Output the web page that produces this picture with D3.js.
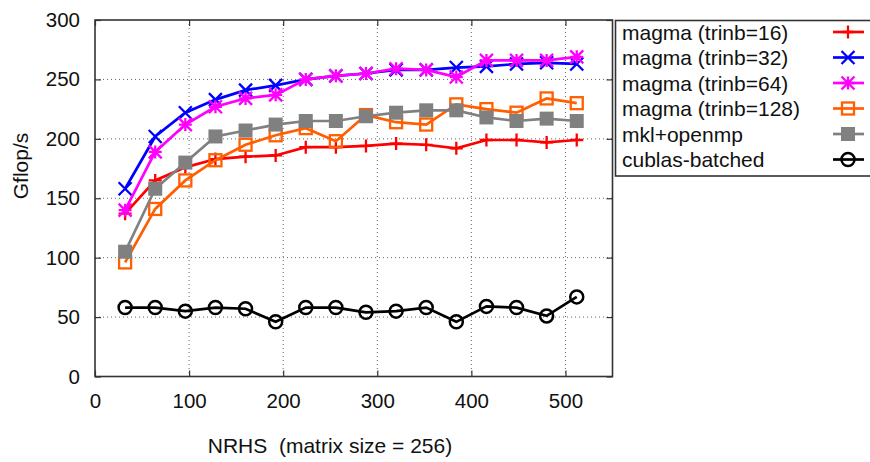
<!DOCTYPE html>
<html>
<head>
<meta charset="utf-8">
<script src="https://cdn.jsdelivr.net/npm/d3@7"></script>
<style>
  body { margin: 0; background: #fff; }
  svg { font-family: "Liberation Sans", Arial, sans-serif; }
</style>
</head>
<body>
<div id="chart"></div>
<script>
// data
const nrhs = [32, 64, 96, 128, 160, 192, 224, 256, 288, 320, 352, 384, 416, 448, 480, 512];
const trinb16 = [137, 165, 176, 183, 185, 186, 193, 193, 194, 196, 195, 192, 199, 199, 197, 199];
const trinb32 = [158, 202, 222, 233, 241, 245, 250, 253, 255, 258, 258, 260, 261, 263, 264, 263];
const trinb64 = [140, 189, 212, 227, 234, 237, 250, 253, 255, 259, 258, 252, 266, 266, 266, 269];
const trinb128 = [96, 141, 165, 182, 195, 203, 209, 198, 220, 214, 212, 229, 225, 222, 234, 230];
const mkl = [105, 158, 180, 202, 207, 212, 215, 215, 219, 222, 224, 224, 218, 215, 217, 215];
const cublas = [58, 58, 55, 58, 57, 46, 58, 58, 54, 55, 58, 46, 59, 58, 51, 67];

const seriesNames = ["magma (trinb=16)", "magma (trinb=32)", "magma (trinb=64)",
                     "magma (trinb=128)", "mkl+openmp", "cublas-batched"];
const seriesValues = [trinb16, trinb32, trinb64, trinb128, mkl, cublas];
const seriesColors = ["#ff0000", "#0000ff", "#ff00ff", "#ff5f00", "#808080", "#000000"];
const seriesMarks = ["plus", "cross", "star", "square", "filledSquare", "circle"];

const xTicks = [0, 100, 200, 300, 400, 500];
const yTicks = [0, 50, 100, 150, 200, 250, 300];

const W = 870, H = 462;
const plot = {left: 95, right: 612.5, top: 20, bottom: 376.5};

const svg = d3.select("#chart").append("svg")
    .attr("width", W)
    .attr("height", H);

const x = d3.scaleLinear().domain([0, 550]).range([plot.left, plot.right]);
const y = d3.scaleLinear().domain([0, 300]).range([plot.bottom, plot.top]);

// grid (dotted)
svg.append("g").selectAll("line")
    .data(xTicks.filter(d => d > 0))
    .join("line")
    .attr("x1", d => x(d)).attr("x2", d => x(d))
    .attr("y1", plot.top).attr("y2", plot.bottom)
    .attr("stroke", "#666").attr("stroke-width", 1).attr("stroke-dasharray", "1,3");
svg.append("g").selectAll("line")
    .data(yTicks.filter(d => d > 0 && d < 300))
    .join("line")
    .attr("x1", plot.left).attr("x2", plot.right)
    .attr("y1", d => y(d)).attr("y2", d => y(d))
    .attr("stroke", "#666").attr("stroke-width", 1).attr("stroke-dasharray", "1,3");

// axes with inward ticks, mirrored
const tl = 6;
svg.append("g")
    .attr("transform", `translate(0,${plot.bottom})`)
    .call(d3.axisBottom(x).tickValues(xTicks).tickSize(-tl).tickPadding(17))
    .call(g => g.select(".domain").remove())
    .call(g => g.selectAll("text").attr("font-size", 20.5).attr("fill", "#111").attr("font-family", "Liberation Sans, Arial"));
svg.append("g")
    .attr("transform", `translate(0,${plot.top})`)
    .call(d3.axisTop(x).tickValues(xTicks).tickSize(-tl).tickFormat(""))
    .call(g => g.select(".domain").remove());
svg.append("g")
    .attr("transform", `translate(${plot.left},0)`)
    .call(d3.axisLeft(y).tickValues(yTicks).tickSize(-tl).tickPadding(15))
    .call(g => g.select(".domain").remove())
    .call(g => g.selectAll("text").attr("font-size", 20.5).attr("fill", "#111").attr("font-family", "Liberation Sans, Arial"));
svg.append("g")
    .attr("transform", `translate(${plot.right},0)`)
    .call(d3.axisRight(y).tickValues(yTicks).tickSize(-tl).tickFormat(""))
    .call(g => g.select(".domain").remove());

svg.selectAll(".tick line").attr("stroke", "#333").attr("stroke-width", 1.2);

// frame
svg.append("rect")
    .attr("x", plot.left).attr("y", plot.top)
    .attr("width", plot.right - plot.left).attr("height", plot.bottom - plot.top)
    .attr("fill", "none").attr("stroke", "#333").attr("stroke-width", 1.6);

// marker shapes
function marker(g, type, color, s) {
    const h = s / 2;
    if (type === "plus") {
        g.append("path").attr("d", `M${-h},0H${h}M0,${-h}V${h}`)
            .attr("stroke", color).attr("stroke-width", 2.3).attr("fill", "none");
    } else if (type === "cross") {
        g.append("path").attr("d", `M${-h},${-h}L${h},${h}M${-h},${h}L${h},${-h}`)
            .attr("stroke", color).attr("stroke-width", 2.3).attr("fill", "none");
    } else if (type === "star") {
        g.append("path").attr("d", `M${-h},0H${h}M0,${-h}V${h}M${-h},${-h}L${h},${h}M${-h},${h}L${h},${-h}`)
            .attr("stroke", color).attr("stroke-width", 2.3).attr("fill", "none");
    } else if (type === "square") {
        g.append("rect").attr("x", -h).attr("y", -h).attr("width", s).attr("height", s)
            .attr("stroke", color).attr("stroke-width", 2.3).attr("fill", "none");
    } else if (type === "filledSquare") {
        g.append("rect").attr("x", -h - 1).attr("y", -h - 1).attr("width", s + 2).attr("height", s + 2)
            .attr("fill", color);
    } else if (type === "circle") {
        g.append("circle").attr("r", h)
            .attr("stroke", color).attr("stroke-width", 2.5).attr("fill", "none");
    }
}

const line = d3.line()
    .x((d, i) => x(nrhs[i]))
    .y(d => y(d));

seriesValues.forEach((vals, k) => {
    const g = svg.append("g");
    g.append("path")
        .datum(vals)
        .attr("fill", "none")
        .attr("stroke", seriesColors[k])
        .attr("stroke-width", 2.7)
        .attr("d", line);
    vals.forEach((v, i) => {
        const m = g.append("g").attr("transform", `translate(${x(nrhs[i])},${y(v)})`);
        marker(m, seriesMarks[k], seriesColors[k], seriesMarks[k] === "square" || seriesMarks[k] === "filledSquare" ? 12 : 13);
    });
});

// legend
const leg = svg.append("g");
leg.append("rect")
    .attr("x", 615.5).attr("y", 20.5)
    .attr("width", 270).attr("height", 155.5)
    .attr("fill", "#fff").attr("stroke", "#333").attr("stroke-width", 1.6);
seriesNames.forEach((name, k) => {
    const cy = 32 + k * 25.5;
    leg.append("text")
        .attr("x", 622).attr("y", cy + 7.5)
        .attr("font-size", 21).attr("fill", "#111")
        .text(name);
    leg.append("line")
        .attr("x1", 833).attr("x2", 864).attr("y1", cy).attr("y2", cy)
        .attr("stroke", seriesColors[k]).attr("stroke-width", 2.7);
    const m = leg.append("g").attr("transform", `translate(848,${cy})`);
    marker(m, seriesMarks[k], seriesColors[k], seriesMarks[k] === "square" || seriesMarks[k] === "filledSquare" ? 12 : 13);
});

// axis titles
svg.append("text")
    .attr("transform", "rotate(-90)")
    .attr("x", -166).attr("y", 28)
    .attr("text-anchor", "middle")
    .attr("font-size", 21).attr("fill", "#111")
    .text("Gflop/s");

svg.append("text")
    .attr("x", 330).attr("y", 453)
    .attr("text-anchor", "middle")
    .attr("font-size", 21).attr("fill", "#111")
    .style("white-space", "pre")
    .text("NRHS  (matrix size = 256)");
</script>
</body>
</html>
